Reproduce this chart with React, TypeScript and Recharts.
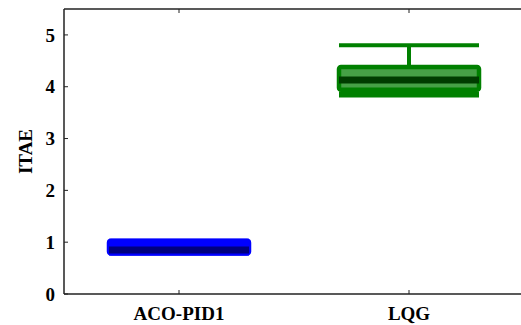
import { ComposedChart, Bar, XAxis, YAxis } from 'recharts';

// Box plot values (ITAE)
const categories = ['ACO-PID1', 'LQG'];
const whiskerLow = [0.8, 3.85];
const q1 = [0.78, 3.94];
const median = [0.85, 4.13];
const q3 = [1.03, 4.38];
const whiskerHigh = [1.03, 4.8];
const yTicks = [0, 1, 2, 3, 4, 5];

const palette = [
  { main: '#0000ff', fill: '#0000ff', dark: '#00007f' },
  { main: '#008000', fill: '#46a046', dark: '#003c00' },
];

const data = categories.map((name, i) => ({
  name,
  whiskerLow: whiskerLow[i],
  q1: q1[i],
  median: median[i],
  q3: q3[i],
  whiskerHigh: whiskerHigh[i],
  idx: i,
}));

const FONT = 'Liberation Serif';
const FS = 19;
const AXIS = '#222';

// bar goes from 0 to whiskerHigh, so the pixel of any value can be found along it
const BoxShape = (props: any) => {
  const { x, y, width, height, payload } = props;
  const pv = (v: number) => y + height * (1 - v / payload.whiskerHigh);
  const c = palette[payload.idx];
  const cx = x + width / 2;
  return (
    <g>
      <line x1={cx} x2={cx} y1={pv(payload.q3)} y2={pv(payload.whiskerHigh)} stroke={c.main} strokeWidth={4} />
      <line x1={cx} x2={cx} y1={pv(payload.q1)} y2={pv(payload.whiskerLow)} stroke={c.main} strokeWidth={4} />
      <line x1={x} x2={x + width} y1={pv(payload.whiskerHigh)} y2={pv(payload.whiskerHigh)} stroke={c.main} strokeWidth={4} />
      <line x1={x} x2={x + width} y1={pv(payload.whiskerLow)} y2={pv(payload.whiskerLow)} stroke={c.main} strokeWidth={6} />
      <rect
        x={x}
        y={pv(payload.q3)}
        width={width}
        height={pv(payload.q1) - pv(payload.q3)}
        fill={c.fill}
        stroke={c.main}
        strokeWidth={4.5}
        rx={2}
      />
      <line x1={x} x2={x + width} y1={pv(payload.median)} y2={pv(payload.median)} stroke={c.dark} strokeWidth={7} />
    </g>
  );
};

const BottomTick = (props: any) => {
  const { x, y, payload } = props;
  return (
    <g>
      <line x1={x} x2={x} y1={y} y2={y - 4} stroke={AXIS} strokeWidth={1} />
      <text x={x} y={y + 26} textAnchor="middle" style={{ fontFamily: FONT, fontWeight: 700, fontSize: FS }} fill="#000">
        {payload.value}
      </text>
    </g>
  );
};

const TopTick = (props: any) => {
  const { x, y } = props;
  return <line x1={x} x2={x} y1={y} y2={y + 4} stroke={AXIS} strokeWidth={1} />;
};

const LeftTick = (props: any) => {
  const { x, y, payload } = props;
  return (
    <g>
      <line x1={x} x2={x + 4} y1={y} y2={y} stroke={AXIS} strokeWidth={1} />
      <text x={x - 9} y={y} dy="0.35em" textAnchor="end" style={{ fontFamily: FONT, fontWeight: 700, fontSize: FS }} fill="#000">
        {payload.value}
      </text>
    </g>
  );
};

const YLabel = (props: any) => {
  const { viewBox } = props;
  const cy = viewBox.y + viewBox.height / 2;
  return (
    <text
      x={25}
      y={cy}
      transform={`rotate(-90, 25, ${cy})`}
      textAnchor="middle"
      dy="0.35em"
      style={{ fontFamily: FONT, fontWeight: 700, fontSize: FS }}
      fill="#000"
    >
      ITAE
    </text>
  );
};

export default function App() {
  return (
    <div style={{ position: 'absolute', left: 0, top: 0, width: 521, height: 325, overflow: 'hidden', background: '#fff' }}>
      <ComposedChart width={530} height={325} data={data} margin={{ top: 8, right: 6, bottom: 0, left: 0 }}>
        <XAxis
          dataKey="name"
          height={31}
          tickSize={0}
          tickMargin={0}
          axisLine={{ stroke: AXIS, strokeWidth: 1.5 }}
          tickLine={false}
          tick={<BottomTick />}
        />
        <XAxis
          dataKey="name"
          xAxisId="top"
          orientation="top"
          height={1}
          tickSize={0}
          tickMargin={0}
          axisLine={{ stroke: AXIS, strokeWidth: 1.5 }}
          tickLine={false}
          tick={<TopTick />}
        />
        <YAxis
          type="number"
          domain={[0, 5.5]}
          ticks={yTicks}
          width={64}
          tickSize={0}
          tickMargin={0}
          axisLine={{ stroke: AXIS, strokeWidth: 1.5 }}
          tickLine={false}
          tick={<LeftTick />}
          label={{ content: <YLabel /> }}
        />
        <Bar dataKey="whiskerHigh" barSize={140} shape={<BoxShape />} isAnimationActive={false} />
      </ComposedChart>
    </div>
  );
}
